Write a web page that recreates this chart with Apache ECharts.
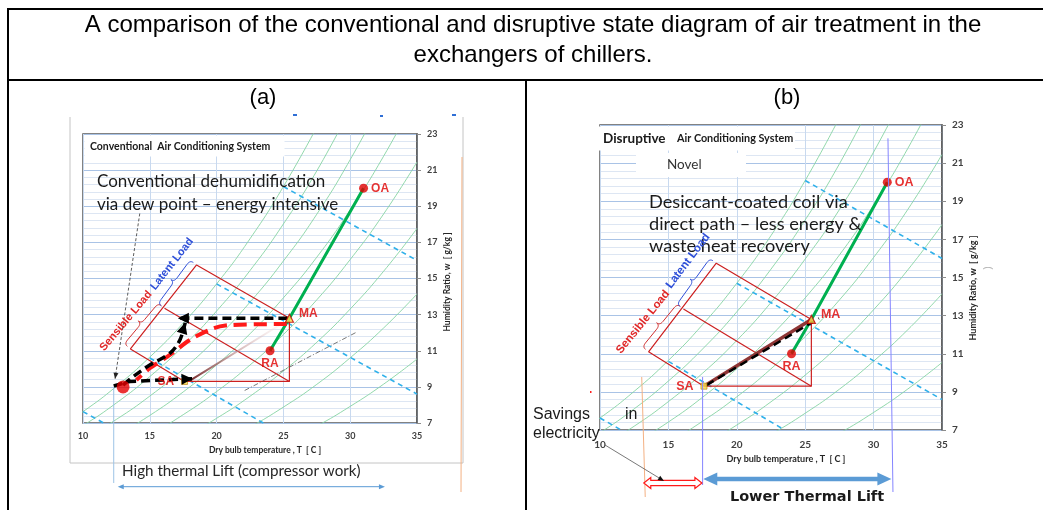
<!DOCTYPE html>
<html>
<head>
<meta charset="utf-8">
<title>Psychrometric comparison</title>
<script src="https://cdn.jsdelivr.net/npm/echarts@6.0.0/dist/echarts.min.js"></script>
<style>
html,body{margin:0;padding:0;background:#ffffff;}
#chart{width:1043px;height:510px;}
</style>
</head>
<body>
<div id="chart"></div>
<script>
// ---------------- data ----------------
const titleLines = ['A comparison of the conventional and disruptive state diagram of air treatment in the', 'exchangers of chillers.'];
const panelLabels = ['(a)', '(b)'];
const tempTicks = [10, 15, 20, 25, 30, 35];
const humidityTicks = [7, 9, 11, 13, 15, 17, 19, 21, 23];

// constant relative-humidity curves: [dry bulb °C, humidity ratio g/kg]
const rh100 = [[7.5, 6.44], [10, 7.63], [12.5, 9.03], [15, 10.65], [17.5, 12.53], [20, 14.70], [22.5, 17.20], [25, 20.09], [27.5, 23.38]];
const rh90 = [[7.5, 5.79], [10, 6.86], [12.5, 8.11], [15, 9.57], [17.5, 11.25], [20, 13.20], [22.5, 15.44], [25, 18.02], [27.5, 20.96], [30, 24.38]];
const rh80 = [[10, 6.09], [12.5, 7.20], [15, 8.49], [17.5, 9.98], [20, 11.70], [22.5, 13.69], [25, 15.97], [27.5, 18.56], [30, 21.58], [32.5, 25.01]];
const rh70 = [[12.5, 6.29], [15, 7.42], [17.5, 8.72], [20, 10.22], [22.5, 11.94], [25, 13.93], [27.5, 16.18], [30, 18.80], [32.5, 21.77], [35, 25.17]];
const rh60 = [[12.5, 5.39], [15, 6.35], [17.5, 7.46], [20, 8.74], [22.5, 10.21], [25, 11.90], [27.5, 13.82], [30, 16.05], [32.5, 18.57], [35, 21.45]];
const rh50 = [[15, 5.28], [17.5, 6.20], [20, 7.26], [22.5, 8.48], [25, 9.88], [27.5, 11.47], [30, 13.31], [32.5, 15.40], [35, 17.77]];
const rh40 = [[17.5, 4.95], [20, 5.80], [22.5, 6.77], [25, 7.88], [27.5, 9.14], [30, 10.61], [32.5, 12.26], [35, 14.14]];
const rh30 = [[22.5, 5.06], [25, 5.89], [27.5, 6.83], [30, 7.92], [32.5, 9.15], [35, 10.54]];

// constant-enthalpy (dashed blue) lines
const enthalpy1 = [[10, 7.63], [11.55, 7.0]];
const enthalpy2 = [[15.0, 10.6], [23.5, 7.0]];
const enthalpy3 = [[20, 14.7], [35, 8.6]];
const enthalpy4 = [[25, 20.09], [35, 16.0]];

// air states
const stateNames = ['OA', 'MA', 'RA', 'SA'];
const OA = [31.0, 20.0];
const MA = [25.45, 12.8];
const RA = [24.0, 11.0];
const SA = [17.6, 9.3];

// load construction (red lines)
const loadTop = [18.5, 15.75];
const loadLeft = [13.55, 11.1];
const loadMid = [16.1, 13.35];
const loadCorner = [25.45, 9.3];

// panel (a) process paths
const dewPointA = [13.0, 9.0];
const coolArrowA = [[25.3, 12.8], [17.1, 12.8]];
const dehumCurveA = [[13.0, 9.1], [13.75, 9.56], [15.0, 10.21], [16.5, 10.86], [17.25, 11.59], [17.65, 12.55]];
const reheatArrowA = [[12.3, 9.05], [13.5, 9.3], [18.2, 9.45]];
const redPathA = [[25.25, 12.48], [21.0, 12.42], [19.75, 12.24], [18.0, 11.6], [16.5, 10.77], [15.0, 10.03], [14.0, 9.38]];
const fadeLineA = [[18.0, 9.35], [25.0, 12.55]];
const greyGuideA = [[22.1, 8.8], [30.4, 12.0]];
const pointerA = [[14.25, 18.6], [12.4, 9.45]];
const liftGuideA = [12.3, 9.0];          // thin blue guide (temp, start humidity)
const liftArrowA = [12.6, 32.6];         // temperature span of the thin arrow

// panel (b) process paths
const directPathB = [SA, MA];
const dashedPathB = [[17.8, 9.36], [26.0, 12.86]];
const lowLiftB = [17.5, 31.05];          // blue guides (temperatures)
const savingsGuideB = 13.05;             // orange guide (temperature)
const lowArrowB = [17.55, 31.3];
const savingsArrowB = [13.2, 17.45];

// ---------------- chart ----------------
const chart = echarts.init(document.getElementById('chart'), null, {renderer: 'canvas'});
const CAL = 'Lato';
const ARIAL = '"Liberation Sans", Arial, sans-serif';
const VERD = '"DejaVu Sans", Verdana, sans-serif';

function axisPair(gi, fs, xMargin, yMargin) {
  const xAxis = {
    gridIndex: gi, type: 'value', min: tempTicks[0], max: tempTicks[tempTicks.length - 1],
    interval: tempTicks[1] - tempTicks[0],
    axisLine: {show: false}, axisTick: {show: false},
    axisLabel: {margin: xMargin, fontSize: fs, fontWeight: 'bold', color: '#404040', fontFamily: CAL},
    splitLine: {show: true, lineStyle: {color: '#c8d9ef', width: 1}}
  };
  const yAxis = {
    gridIndex: gi, type: 'value', position: 'right',
    min: humidityTicks[0], max: humidityTicks[humidityTicks.length - 1],
    interval: humidityTicks[1] - humidityTicks[0],
    axisLine: {show: true, lineStyle: {color: '#595959', width: 1.5}},
    axisTick: {show: true, length: 4, lineStyle: {color: '#8c8c8c'}},
    axisLabel: {margin: yMargin, fontSize: fs, fontWeight: 'bold', color: '#404040', fontFamily: CAL},
    splitLine: {show: true, lineStyle: {color: '#a9c3e6', width: 1}},
    minorTick: {show: false, splitNumber: 5},
    minorSplitLine: {show: true, lineStyle: {color: '#dde6f3', width: 1}}
  };
  return [xAxis, yAxis];
}

function baseSeries(gi) {
  const b = {xAxisIndex: gi, yAxisIndex: gi, silent: true, animation: false};
  const s = [];
  [rh100, rh90, rh80, rh70, rh60, rh50, rh40, rh30].forEach(c => {
    s.push(Object.assign({type: 'line', data: c, smooth: true, symbol: 'none',
      lineStyle: {color: '#86d4a3', width: 0.9}, z: 2}, b));
  });
  [enthalpy1, enthalpy2, enthalpy3, enthalpy4].forEach(c => {
    s.push(Object.assign({type: 'line', data: c, symbol: 'none',
      lineStyle: {color: '#2fb0ea', width: 1.6, type: [5, 4]}, z: 3}, b));
  });
  s.push(Object.assign({type: 'line', data: [SA, loadCorner, MA, loadTop, loadLeft, SA], symbol: 'none',
    lineStyle: {color: '#cc2020', width: 1.2}, z: 4}, b));
  s.push(Object.assign({type: 'line', data: [loadMid, loadCorner], symbol: 'none',
    lineStyle: {color: '#cc2020', width: 1.2}, z: 4}, b));
  s.push(Object.assign({type: 'line', data: [OA, MA, RA], symbol: 'none',
    lineStyle: {color: '#00b050', width: 3}, z: 5}, b));
  return s;
}

function stateSeries(gi, fs) {
  const pts = [OA, MA, RA, SA];
  const styles = {
    OA: {symbol: 'circle', symbolSize: 9, itemStyle: {color: '#e00000'}, label: {position: 'right', distance: 3}},
    MA: {symbol: 'triangle', symbolSize: 8, itemStyle: {color: '#ffe14d', borderColor: '#c00000', borderWidth: 1.2}, label: {position: 'right', distance: 5, offset: [0, -5]}},
    RA: {symbol: 'circle', symbolSize: 9, itemStyle: {color: '#e00000'}, label: {position: 'bottom', distance: 2}},
    SA: {symbol: 'rect', symbolSize: 6, itemStyle: {color: '#ffe14d', borderColor: '#b07a00', borderWidth: 0.8}, label: {position: 'left', distance: 7}}
  };
  return {
    type: 'scatter', xAxisIndex: gi, yAxisIndex: gi, silent: true, animation: false, z: 9,
    label: {show: true, formatter: '{b}', fontFamily: ARIAL, fontWeight: 'bold', fontSize: fs, color: '#e00000'},
    data: pts.map((p, i) => Object.assign({name: stateNames[i], value: p}, styles[stateNames[i]]))
  };
}

function pathLine(gi, data, style, smooth, z) {
  return {type: 'line', xAxisIndex: gi, yAxisIndex: gi, silent: true, animation: false, data,
    symbol: 'none', smooth: smooth || false, z: z || 7, lineStyle: style};
}

const axA = axisPair(0, 9, 9, 10);
const axB = axisPair(1, 10, 10, 10);
const blackDash = {width: 3.5, color: '#000', type: [9, 5]};

const seriesA = baseSeries(0).concat([
  pathLine(0, fadeLineA, {width: 2, color: {type: 'linear', x: 0, y: 1, x2: 1, y2: 0,
     colorStops: [{offset: 0, color: '#6e1f1f'}, {offset: 1, color: 'rgba(255,235,235,0.2)'}]}}, false, 6),
  pathLine(0, greyGuideA, {width: 0.8, color: '#555', type: [5, 2, 1, 2]}, false, 6),
  pathLine(0, redPathA, {width: 4, color: '#ff1a1a', type: [13, 7]}, 0.3, 7),
  pathLine(0, coolArrowA, blackDash, false, 8),
  pathLine(0, dehumCurveA, blackDash, 0.35, 8),
  pathLine(0, reheatArrowA, blackDash, false, 8),
  pathLine(0, pointerA, {width: 0.8, color: '#333', type: [3, 2]}, false, 8),
  {type: 'scatter', xAxisIndex: 0, yAxisIndex: 0, silent: true, z: 9, symbolSize: 13,
   itemStyle: {color: '#e50000'}, data: [dewPointA]},
  stateSeries(0, 12)
]);

const seriesB = baseSeries(1).concat([
  pathLine(1, directPathB, {width: 3.5, color: '#8e3535'}, false, 6),
  pathLine(1, dashedPathB, {width: 2.5, color: '#000', type: [8, 5]}, false, 7),
  stateSeries(1, 12.5)
]);

chart.setOption({
  animation: false,
  backgroundColor: '#ffffff',
  grid: [
    {left: 83, top: 134, width: 334, height: 289, show: true, borderColor: '#595959', borderWidth: 1.5, backgroundColor: '#fff'},
    {left: 600, top: 125, width: 342, height: 305, show: true, borderColor: '#595959', borderWidth: 1.5, backgroundColor: '#fff'}
  ],
  xAxis: [axA[0], axB[0]],
  yAxis: [axA[1], axB[1]],
  series: seriesA.concat(seriesB)
});

// ---------------- annotations ----------------
const px = (gi, p) => chart.convertToPixel({gridIndex: gi}, p);
function L(x1, y1, x2, y2, w, c, dash, z) {
  return {type: 'line', silent: true, z: z || 100, shape: {x1, y1, x2, y2},
    style: {stroke: c, lineWidth: w, lineDash: dash || null}};
}
function T(x, y, text, font, fill, align, rot, z) {
  return {type: 'text', silent: true, x, y, rotation: rot || 0, z: z || 101,
    style: {text, font, fill, textAlign: align || 'left', textVerticalAlign: 'middle',
      align: align || 'left', verticalAlign: 'middle'}};
}
function R(x, y, w, h, fill, z) {
  return {type: 'rect', silent: true, z: z || 90, shape: {x, y, width: w, height: h}, style: {fill}};
}
function head(tip, from, len, half, fill) {
  const dx = tip[0] - from[0], dy = tip[1] - from[1], d = Math.hypot(dx, dy);
  const ux = dx / d, uy = dy / d, bx = tip[0] - ux * len, by = tip[1] - uy * len;
  return {type: 'polygon', silent: true, z: 101, shape: {points: [tip, [bx - uy * half, by + ux * half], [bx + uy * half, by - ux * half]]},
    style: {fill}};
}
function brace(p1, p2, a, base, color) {
  const dx = p2[0] - p1[0], dy = p2[1] - p1[1], Ln = Math.hypot(dx, dy);
  const t = [dx / Ln, dy / Ln], n = [t[1], -t[0]];
  const P = (u, v) => [p1[0] + t[0] * u + n[0] * (v + base), p1[1] + t[1] * u + n[1] * (v + base)];
  const pts = [];
  const q = (A, C, B) => { for (let i = 0; i <= 8; i++) { const s = i / 8, k = 1 - s;
    pts.push([k * k * A[0] + 2 * k * s * C[0] + s * s * B[0], k * k * A[1] + 2 * k * s * C[1] + s * s * B[1]]); } };
  const h = Math.min(5, Ln / 6), m = Ln / 2;
  q(P(0, 0), P(0, a), P(h, a));
  q(P(m - h, a), P(m, a), P(m, 2 * a));
  q(P(m, 2 * a), P(m, a), P(m + h, a));
  q(P(Ln - h, a), P(Ln, a), P(Ln, 0));
  return {type: 'polyline', silent: true, z: 100, shape: {points: pts}, style: {stroke: color, fill: null, lineWidth: 1}};
}
function doubleArrow(x1, x2, y, shaft, headH, headL, fill, stroke) {
  return {type: 'polygon', silent: true, z: 101, shape: {points: [
    [x1, y], [x1 + headL, y - headH], [x1 + headL, y - shaft], [x2 - headL, y - shaft], [x2 - headL, y - headH],
    [x2, y], [x2 - headL, y + headH], [x2 - headL, y + shaft], [x1 + headL, y + shaft], [x1 + headL, y + headH]]},
    style: {fill, stroke: stroke || null, lineWidth: stroke ? 1.2 : 0}};
}
const last = (arr, k) => arr[arr.length - 1 - (k || 0)];

const G = [];
// table frame
G.push(L(7, 9, 1043, 9, 2, '#000'));
G.push(L(8, 8, 8, 510, 2, '#000'));
G.push(L(7, 80, 1043, 80, 2, '#000'));
G.push(L(526, 80, 526, 510, 2, '#000'));
G.push(T(533, 25, titleLines[0], '24px ' + ARIAL, '#000', 'center'));
G.push(T(533, 55, titleLines[1], '24px ' + ARIAL, '#000', 'center'));
G.push(T(263, 98, panelLabels[0], '22px ' + ARIAL, '#000', 'center'));
G.push(T(787, 98, panelLabels[1], '22px ' + ARIAL, '#000', 'center'));

// ----- panel (a) -----
G.push(L(70, 117, 70, 463, 1, '#c4c4c4', null, 80));
G.push(L(463, 117, 463, 463, 1, '#c4c4c4', null, 80));
G.push(L(70, 463, 463, 463, 1, '#c4c4c4', null, 80));
G.push(L(462, 157, 461, 492, 1, '#f4b183', null, 81));
G.push(R(293, 114, 4, 2, '#2f6fd6', 81));
G.push(R(380, 115, 3, 2, '#2f6fd6', 81));
G.push(R(452, 114, 4, 2, '#2f6fd6', 81));
G.push(R(84.5, 135.5, 200, 21, '#fff'));
G.push(T(90, 147, 'Conventional  Air Conditioning System', 'bold 10.5px ' + CAL, '#1a1a1a'));
G.push(T(97, 182, 'Conventional dehumidification', '17px ' + CAL, '#1a1a1a'));
G.push(T(97, 205, 'via dew point \u2013 energy intensive', '17px ' + CAL, '#1a1a1a'));
G.push(T(126, 321, 'Sensible Load', 'bold 11px ' + ARIAL, '#e02828', 'center', 50 * Math.PI / 180));
G.push(T(172, 264, 'Latent Load', 'bold 11px ' + ARIAL, '#2e4fd8', 'center', 52 * Math.PI / 180));
G.push(brace(px(0, loadLeft), px(0, loadMid), 4, 4, '#d03030'));
G.push(brace(px(0, loadMid), px(0, loadTop), 4, 4, '#3050d8'));
// arrow heads of the process paths
G.push(head(px(0, last(coolArrowA)), px(0, last(coolArrowA, 1)), 11, 5.5, '#000'));
G.push(head(px(0, last(dehumCurveA)), px(0, last(dehumCurveA, 1)), 11, 5.5, '#000'));
G.push(head(px(0, last(reheatArrowA)), px(0, last(reheatArrowA, 1)), 11, 5.5, '#000'));
G.push(head(px(0, last(pointerA)), px(0, last(pointerA, 1)), 6, 2.5, '#222'));
G.push(T(265, 450.5, 'Dry bulb temperature , T  [ C ]', 'bold 8.5px ' + CAL, '#262626', 'center'));
G.push(T(447, 282, 'Humidity Ratio, w  [ g/kg ]', 'bold 8.5px ' + CAL, '#262626', 'center', Math.PI / 2));
(function () {
  const top = px(0, liftGuideA);
  G.push(L(top[0], top[1], top[0], 483, 1, '#9dc3e6'));
  const xa = px(0, [liftArrowA[0], 7])[0], xb = px(0, [liftArrowA[1], 7])[0], y = 486.7;
  G.push(L(xa + 3, y, xb - 3, y, 1, '#5b9bd5'));
  G.push(head([xa, y], [xa + 10, y], 6, 2.5, '#5b9bd5'));
  G.push(head([xb, y], [xb - 10, y], 6, 2.5, '#5b9bd5'));
})();
G.push(T(122, 471, 'High thermal Lift (compressor work)', '15.2px ' + CAL, '#262626'));

// ----- panel (b) -----
G.push(R(597, 126.5, 198, 24, '#fff'));
G.push(T(603, 139, 'Disruptive', 'bold 13.5px ' + CAL, '#1a1a1a'));
G.push(T(677, 139, 'Air Conditioning System', 'bold 10.8px ' + CAL, '#1a1a1a'));
G.push(R(636, 153, 110, 24, '#fff'));
G.push(T(667, 165, 'Novel', '13.5px ' + CAL, '#333'));
G.push(T(649, 202, 'Desiccant-coated coil via', '18.2px ' + CAL, '#1a1a1a'));
G.push(T(649, 224, 'direct path \u2013 less energy &', '18.2px ' + CAL, '#1a1a1a'));
G.push(T(649, 246, 'waste heat recovery', '18.2px ' + CAL, '#1a1a1a'));
G.push(T(643, 322, 'Sensible Load', 'bold 11.5px ' + ARIAL, '#e02828', 'center', 51 * Math.PI / 180));
G.push(T(688, 261, 'Latent Load', 'bold 11.5px ' + ARIAL, '#2e4fd8', 'center', 53 * Math.PI / 180));
G.push(brace(px(1, loadLeft), px(1, loadMid), 4, 4, '#d03030'));
G.push(brace(px(1, loadMid), px(1, loadTop), 4, 4, '#3050d8'));
G.push(T(786, 459, 'Dry bulb temperature , T  [ C ]', 'bold 9px ' + CAL, '#262626', 'center'));
G.push(T(973, 288, 'Humidity Ratio, w  [ g/kg ]', 'bold 9px ' + CAL, '#262626', 'center', Math.PI / 2));
G.push(T(988, 268, '(', '10px ' + ARIAL, '#b0b0b0', 'center', -Math.PI / 2));
G.push(R(590, 391, 1.5, 2, '#ff2020', 101));
(function () {
  const a = px(1, [lowLiftB[0], 9.78]);
  G.push(L(a[0], a[1], a[0], 485, 1, '#8585ff'));
  const b = px(1, [lowLiftB[1], 22.3]);
  G.push(L(b[0], b[1], b[0] + 5, 492, 1, '#8585ff'));
  const o = px(1, [savingsGuideB, 9.78]);
  G.push(L(o[0], o[1], o[0] + 3.5, 497, 1, '#f4b183'));
  const r1 = px(1, [savingsArrowB[0], 7])[0], r2 = px(1, [savingsArrowB[1], 7])[0];
  G.push(doubleArrow(r1, r2, 483, 2.6, 5.5, 7, '#fff', '#ff1a1a'));
  const b1 = px(1, [lowArrowB[0], 7])[0], b2 = px(1, [lowArrowB[1], 7])[0];
  G.push(doubleArrow(b1, b2, 479, 2.3, 6.5, 14, '#5b9bd5'));
})();
G.push(T(533, 415, 'Savings', '16px ' + ARIAL, '#1a1a1a'));
G.push(T(625, 415, 'in', '16px ' + ARIAL, '#1a1a1a'));
G.push(T(533, 434, 'electricity', '16px ' + ARIAL, '#1a1a1a'));
G.push(L(605, 445, 660, 478.5, 0.8, '#555'));
G.push(head([664, 481], [605, 445], 6, 2.5, '#111'));
G.push(T(807, 497, 'Lower Thermal Lift', 'bold 14.5px ' + VERD, '#1a1a1a', 'center'));

chart.setOption({graphic: G});
</script>
</body>
</html>
